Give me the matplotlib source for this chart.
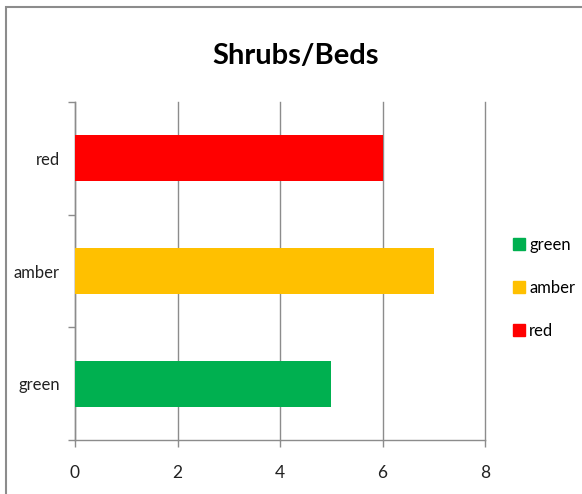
import matplotlib
matplotlib.use("Agg")
import matplotlib.pyplot as plt
from matplotlib.patches import Rectangle
from matplotlib.lines import Line2D

categories = ["green", "amber", "red"]
values = [5, 7, 6]
colors = ["#00B050", "#FFC000", "#FF0000"]
xticks = [0, 2, 4, 6, 8]
title = "Shrubs/Beds"

plt.rcParams["font.family"] = ["Lato", "DejaVu Sans"]

W, H = 582, 494
fig = plt.figure(figsize=(W / 100, H / 100), dpi=100)
fig.patch.set_facecolor("white")

# outer chart border (partially cropped)
fig.add_artist(Rectangle((6 / W, -0.1), 1.2, 1 - 7 / H + 0.1, transform=fig.transFigure,
                         fill=False, edgecolor="#8C8C8C", linewidth=1.5))

ax = fig.add_axes([75 / W, 1 - 440 / H, (485 - 75) / W, (440 - 102) / H])
ypos = list(range(len(categories)))
ax.barh(ypos, values, height=0.41, color=colors, zorder=3)
ax.set_xlim(0, 8)
ax.set_ylim(-0.5, 2.5)
ax.set_xticks(xticks)
ax.set_xticklabels([str(t) for t in xticks], fontsize=12.5, color="#222222")
ax.set_yticks(ypos)
ax.set_yticklabels(categories, fontsize=12, color="#222222")
ax.set_yticks([-0.5, 0.5, 1.5, 2.5], minor=True)
ax.tick_params(axis="y", which="major", length=0, pad=11)
ax.tick_params(axis="y", which="minor", length=5, color="#8C8C8C", width=1)
ax.tick_params(axis="x", length=5, color="#8C8C8C", width=1, pad=13)
ax.grid(axis="x", color="#8C8C8C", linewidth=1, zorder=0)
for gl in ax.get_xgridlines():
    gl.set_clip_on(False)
for s in ["top", "right"]:
    ax.spines[s].set_visible(False)
for s in ["left", "bottom"]:
    ax.spines[s].set_color("#8C8C8C")
    ax.spines[s].set_linewidth(1)

fig.text(296 / W, 1 - 56 / H, title, ha="center", va="center", fontsize=21,
         fontweight="bold", color="black")

handles = [Line2D([0], [0], marker="s", linestyle="none", markersize=8,
                  markerfacecolor=c, markeredgecolor=c) for c in colors]
fig.legend(handles, categories, loc="center left", bbox_to_anchor=(496 / W, 1 - 288 / H),
           frameon=False, fontsize=12, handletextpad=0.0, labelspacing=1.6,
           handlelength=1.3, borderpad=0.2)

fig.savefig("out.png", dpi=100)
